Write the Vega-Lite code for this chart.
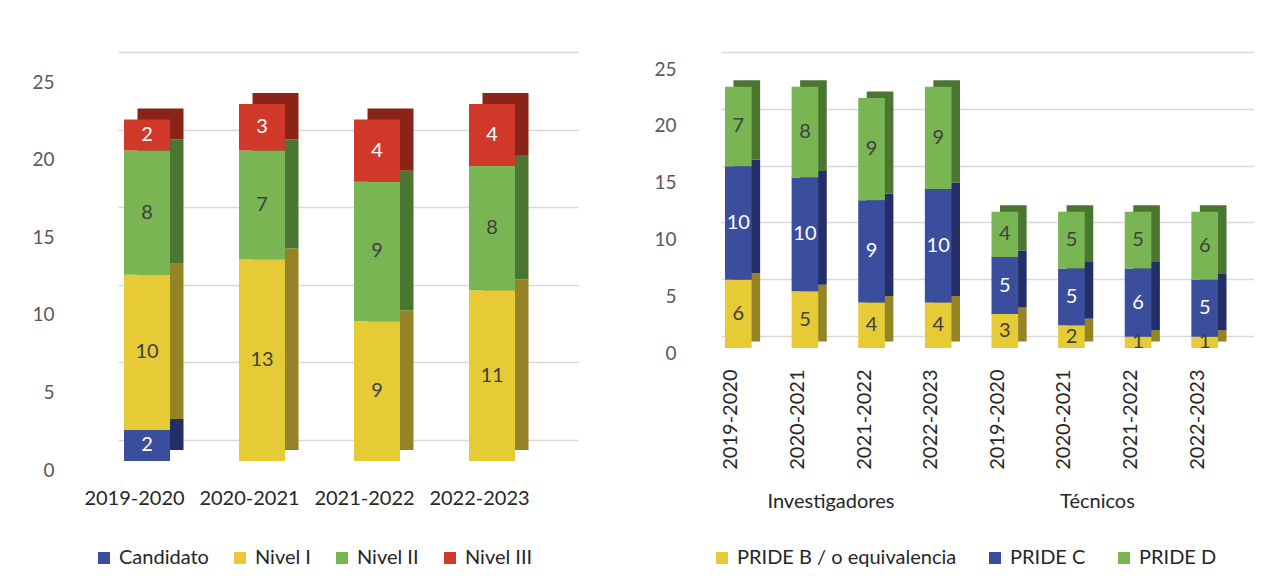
{
  "$schema": "https://vega.github.io/schema/vega-lite/v6.json",
  "padding": {"left": 31, "top": 52, "right": 0, "bottom": 0},
  "background": "white",
  "config": {
    "font": "Lato",
    "view": {"stroke": null},
    "axis": {"domain": false, "ticks": false, "title": null, "gridColor": "#D9D9D9", "gridWidth": 1.5},
    "legend": {
      "orient": "none", "direction": "horizontal", "title": null,
      "symbolType": "square", "symbolSize": 144, "symbolStrokeWidth": 0,
      "labelFontSize": 20, "labelColor": "#262626", "columnPadding": 21, "labelOffset": 5, "padding": 0, "labelLimit": 400
    }
  },
  "datasets": {
    "left": [
      {"year": "2019-2020", "serie": "Candidato", "value": 2},
      {"year": "2019-2020", "serie": "Nivel I", "value": 10},
      {"year": "2019-2020", "serie": "Nivel II", "value": 8},
      {"year": "2019-2020", "serie": "Nivel III", "value": 2},
      {"year": "2020-2021", "serie": "Nivel I", "value": 13},
      {"year": "2020-2021", "serie": "Nivel II", "value": 7},
      {"year": "2020-2021", "serie": "Nivel III", "value": 3},
      {"year": "2021-2022", "serie": "Nivel I", "value": 9},
      {"year": "2021-2022", "serie": "Nivel II", "value": 9},
      {"year": "2021-2022", "serie": "Nivel III", "value": 4},
      {"year": "2022-2023", "serie": "Nivel I", "value": 11},
      {"year": "2022-2023", "serie": "Nivel II", "value": 8},
      {"year": "2022-2023", "serie": "Nivel III", "value": 4}
    ],
    "right": [
      {"grupo": "Investigadores", "year": "2019-2020", "id": "Investigadores|2019-2020", "serie": "PRIDE B / o equivalencia", "value": 6},
      {"grupo": "Investigadores", "year": "2019-2020", "id": "Investigadores|2019-2020", "serie": "PRIDE C", "value": 10},
      {"grupo": "Investigadores", "year": "2019-2020", "id": "Investigadores|2019-2020", "serie": "PRIDE D", "value": 7},
      {"grupo": "Investigadores", "year": "2020-2021", "id": "Investigadores|2020-2021", "serie": "PRIDE B / o equivalencia", "value": 5},
      {"grupo": "Investigadores", "year": "2020-2021", "id": "Investigadores|2020-2021", "serie": "PRIDE C", "value": 10},
      {"grupo": "Investigadores", "year": "2020-2021", "id": "Investigadores|2020-2021", "serie": "PRIDE D", "value": 8},
      {"grupo": "Investigadores", "year": "2021-2022", "id": "Investigadores|2021-2022", "serie": "PRIDE B / o equivalencia", "value": 4},
      {"grupo": "Investigadores", "year": "2021-2022", "id": "Investigadores|2021-2022", "serie": "PRIDE C", "value": 9},
      {"grupo": "Investigadores", "year": "2021-2022", "id": "Investigadores|2021-2022", "serie": "PRIDE D", "value": 9},
      {"grupo": "Investigadores", "year": "2022-2023", "id": "Investigadores|2022-2023", "serie": "PRIDE B / o equivalencia", "value": 4},
      {"grupo": "Investigadores", "year": "2022-2023", "id": "Investigadores|2022-2023", "serie": "PRIDE C", "value": 10},
      {"grupo": "Investigadores", "year": "2022-2023", "id": "Investigadores|2022-2023", "serie": "PRIDE D", "value": 9},
      {"grupo": "Técnicos", "year": "2019-2020", "id": "Técnicos|2019-2020", "serie": "PRIDE B / o equivalencia", "value": 3},
      {"grupo": "Técnicos", "year": "2019-2020", "id": "Técnicos|2019-2020", "serie": "PRIDE C", "value": 5},
      {"grupo": "Técnicos", "year": "2019-2020", "id": "Técnicos|2019-2020", "serie": "PRIDE D", "value": 4},
      {"grupo": "Técnicos", "year": "2020-2021", "id": "Técnicos|2020-2021", "serie": "PRIDE B / o equivalencia", "value": 2},
      {"grupo": "Técnicos", "year": "2020-2021", "id": "Técnicos|2020-2021", "serie": "PRIDE C", "value": 5},
      {"grupo": "Técnicos", "year": "2020-2021", "id": "Técnicos|2020-2021", "serie": "PRIDE D", "value": 5},
      {"grupo": "Técnicos", "year": "2021-2022", "id": "Técnicos|2021-2022", "serie": "PRIDE B / o equivalencia", "value": 1},
      {"grupo": "Técnicos", "year": "2021-2022", "id": "Técnicos|2021-2022", "serie": "PRIDE C", "value": 6},
      {"grupo": "Técnicos", "year": "2021-2022", "id": "Técnicos|2021-2022", "serie": "PRIDE D", "value": 5},
      {"grupo": "Técnicos", "year": "2022-2023", "id": "Técnicos|2022-2023", "serie": "PRIDE B / o equivalencia", "value": 1},
      {"grupo": "Técnicos", "year": "2022-2023", "id": "Técnicos|2022-2023", "serie": "PRIDE C", "value": 5},
      {"grupo": "Técnicos", "year": "2022-2023", "id": "Técnicos|2022-2023", "serie": "PRIDE D", "value": 6}
    ]
  },
  "spacing": 75,
  "resolve": {"scale": {"color": "independent", "x": "independent", "y": "independent"}, "legend": {"color": "independent"}},
  "hconcat": [
    {
      "width": 460,
      "height": 388,
      "data": {"name": "left"},
      "encoding": {
        "x": {"field": "year", "type": "nominal", "sort": null,
          "scale": {"paddingInner": 0.6, "paddingOuter": 0.3},
          "axis": {"labelAngle": 0, "labelFontSize": 20, "labelColor": "#262626", "offset": 29, "labelPadding": 19, "labelOffset": -41, "grid": false}},
        "y": {"field": "value", "type": "quantitative", "stack": "zero",
          "scale": {"domain": [0, 25], "nice": false},
          "axis": {"values": [0, 5, 10, 15, 20, 25], "grid": true, "labelFontSize": 19, "labelColor": "#595959", "offset": 41, "labelPadding": 23, "labelOffset": 30}},
        "order": {"field": "serie", "sort": "ascending"}
      },
      "layer": [
        {
          "mark": {"type": "bar", "xOffset": -15, "x2Offset": -15, "yOffset": 10, "y2Offset": 10},
          "encoding": {
            "color": {"field": "serie", "type": "nominal",
              "scale": {"domain": ["Candidato", "Nivel I", "Nivel II", "Nivel III"], "range": ["#252F67", "#958426", "#4B7632", "#8A2419"]},
              "legend": null}
          }
        },
        {
          "mark": {"type": "bar", "xOffset": -28.5, "x2Offset": -28.5, "yOffset": 21, "y2Offset": 21},
          "encoding": {
            "color": {"field": "serie", "type": "nominal",
              "scale": {"domain": ["Candidato", "Nivel I", "Nivel II", "Nivel III"], "range": ["#3B4E9D", "#E6CA36", "#79B553", "#D0382A"]},
              "legend": {"legendX": -24, "legendY": 496}}
          }
        },
        {
          "mark": {"type": "text", "xOffset": -28.5, "yOffset": 21, "fontSize": 20},
          "encoding": {
            "y": {"field": "value", "type": "quantitative", "stack": "zero", "bandPosition": 0.5,
              "scale": {"domain": [0, 25], "nice": false},
              "axis": {"values": [0, 5, 10, 15, 20, 25], "grid": true, "labelFontSize": 19, "labelColor": "#595959", "offset": 41, "labelPadding": 23, "labelOffset": 30}},
            "text": {"field": "value", "type": "quantitative"},
            "color": {"condition": {"test": "datum.serie === 'Candidato' || datum.serie === 'Nivel III'", "value": "white"}, "value": "#404040"}
          }
        }
      ],
      "resolve": {"scale": {"color": "independent"}}
    },
    {
      "width": 533,
      "height": 284,
      "data": {"name": "right"},
      "encoding": {
        "x": {"field": "id", "type": "nominal", "sort": null,
          "scale": {"paddingInner": 0.6, "paddingOuter": 0.3},
          "axis": {"labelAngle": -90, "labelFontSize": 20, "labelColor": "#262626", "offset": 16, "labelPadding": 17, "labelOffset": -23, "grid": false, "labelExpr": "split(datum.label, '|')[1]"}},
        "y": {"field": "value", "type": "quantitative", "stack": "zero",
          "scale": {"domain": [0, 25], "nice": false},
          "axis": {"values": [0, 5, 10, 15, 20, 25], "grid": true, "labelFontSize": 19, "labelColor": "#595959", "offset": 23, "labelPadding": 22, "labelOffset": 17}},
        "order": {"field": "serie", "sort": "ascending"}
      },
      "layer": [
        {
          "mark": {"type": "bar", "xOffset": -7.5, "x2Offset": -7.5, "yOffset": 5.5, "y2Offset": 5.5},
          "encoding": {
            "color": {"field": "serie", "type": "nominal",
              "scale": {"domain": ["PRIDE B / o equivalencia", "PRIDE C", "PRIDE D"], "range": ["#958426", "#252F67", "#4B7632"]},
              "legend": null}
          }
        },
        {
          "mark": {"type": "bar", "xOffset": -16, "x2Offset": -16, "yOffset": 12, "y2Offset": 12},
          "encoding": {
            "color": {"field": "serie", "type": "nominal",
              "scale": {"domain": ["PRIDE B / o equivalencia", "PRIDE C", "PRIDE D"], "range": ["#E6CA36", "#3B4E9D", "#79B553"]},
              "legend": {"legendX": -9, "legendY": 496, "columnPadding": 28}}
          }
        },
        {
          "mark": {"type": "text", "xOffset": -16, "yOffset": 12, "fontSize": 20},
          "encoding": {
            "y": {"field": "value", "type": "quantitative", "stack": "zero", "bandPosition": 0.5,
              "scale": {"domain": [0, 25], "nice": false},
              "axis": {"values": [0, 5, 10, 15, 20, 25], "grid": true, "labelFontSize": 19, "labelColor": "#595959", "offset": 23, "labelPadding": 22, "labelOffset": 17}},
            "text": {"field": "value", "type": "quantitative"},
            "color": {"condition": {"test": "datum.serie === 'PRIDE C'", "value": "white"}, "value": "#404040"}
          }
        },
        {
          "transform": [{"filter": "datum.year === '2020-2021' && datum.serie === 'PRIDE C'"}],
          "mark": {"type": "text", "fontSize": 20, "color": "#262626", "dx": 10, "dy": 166},
          "encoding": {
            "y": {"datum": 0},
            "text": {"field": "grupo", "type": "nominal"},
            "order": null
          }
        }
      ],
      "resolve": {"scale": {"color": "independent"}}
    }
  ]
}
